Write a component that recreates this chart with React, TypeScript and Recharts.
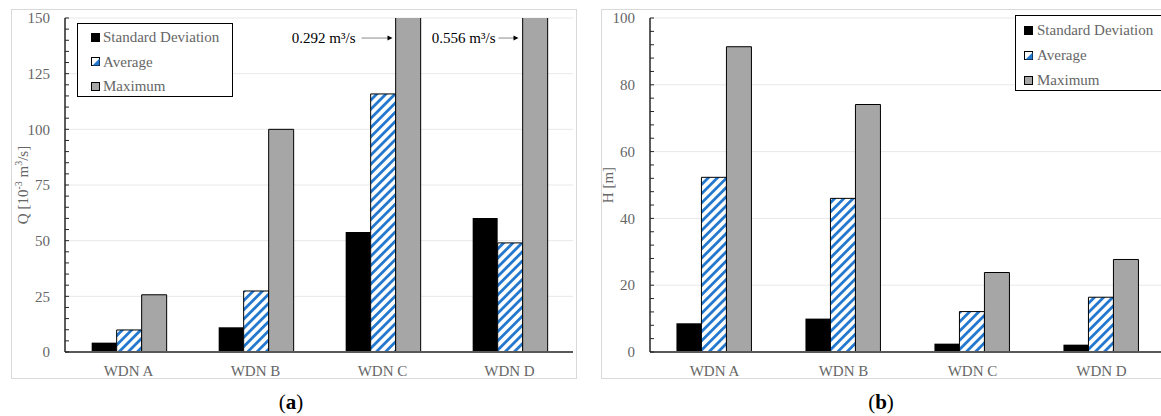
import React from 'react';
import { BarChart, Bar, XAxis, YAxis, CartesianGrid, Legend, ReferenceDot } from 'recharts';

// ---------- data ----------
const categories = ['WDN A', 'WDN B', 'WDN C', 'WDN D'];
const seriesNames = ['Standard Deviation', 'Average', 'Maximum'];

// (a) flow, Q [10^-3 m^3/s]
const flowStd = [4.2, 11.1, 53.9, 60.2];
const flowAvg = [9.9, 27.4, 115.9, 49.0];
const flowMax = [25.7, 100.0, 292, 556];

// (b) head, H [m]
const headStd = [8.6, 10.0, 2.5, 2.2];
const headAvg = [52.3, 46.0, 12.1, 16.4];
const headMax = [91.4, 74.1, 23.8, 27.7];

const flowTicks = [0, 5, 10, 15, 20, 25, 30, 35, 40, 45, 50, 55, 60, 65, 70, 75, 80, 85, 90, 95, 100, 105, 110, 115, 120, 125, 130, 135, 140, 145, 150];
const flowMajorTicks = [0, 25, 50, 75, 100, 125, 150];
const headTicks = [0, 4, 8, 12, 16, 20, 24, 28, 32, 36, 40, 44, 48, 52, 56, 60, 64, 68, 72, 76, 80, 84, 88, 92, 96, 100];
const headMajorTicks = [0, 20, 40, 60, 80, 100];

// off-scale annotations for (a)
const flowNoteCategories = ['WDN C', 'WDN D'];
const flowNoteLabels = ['0.292 m³/s', '0.556 m³/s'];
const flowNoteLevels = [141, 141];

// ---------- styles ----------
const FONT = "'Liberation Serif', 'Times New Roman', serif";
const TEXT = '#666666';
const BLUE = '#2479cf';
const GRAY = '#a6a6a6';
const noteStyles = [
  { textEnd: -27, arrowStart: -21, arrowEnd: 10 },
  { textEnd: -14, arrowStart: -11, arrowEnd: 9 },
];

const flowData = categories.map((name, i) => ({ name, std: flowStd[i], avg: flowAvg[i], max: flowMax[i] }));
const headData = categories.map((name, i) => ({ name, std: headStd[i], avg: headAvg[i], max: headMax[i] }));

const makeYTick = (major: number[], gap: number) => (props: any) => {
  const { x, y, payload } = props;
  const ax = x + gap;
  const isMajor = major.includes(payload.value);
  return (
    <g>
      <line x1={ax} x2={ax + 4} y1={y} y2={y} stroke="#262626" strokeWidth={1} />
      {isMajor && (
        <text x={x} y={y} dy="0.35em" textAnchor="end" fill={TEXT} fontSize={15} fontFamily={FONT}>
          {payload.value}
        </text>
      )}
    </g>
  );
};

const Swatch = ({ kind }: { kind: string }) => {
  if (kind === 'std') {
    return (
      <svg width={9} height={9} style={{ display: 'block' }}>
        <rect x={0} y={0} width={9} height={9} fill="#000" />
      </svg>
    );
  }
  if (kind === 'avg') {
    return (
      <svg width={9} height={9} style={{ display: 'block' }}>
        <rect x={0.5} y={0.5} width={8} height={8} fill="#fff" stroke="#000" />
        <polygon points="8.5,1.5 8.5,8.5 1.5,8.5" fill={BLUE} />
      </svg>
    );
  }
  return (
    <svg width={9} height={9} style={{ display: 'block' }}>
      <rect x={0.5} y={0.5} width={8} height={8} fill={GRAY} stroke="#000" />
    </svg>
  );
};

const makeLegend = (cfg: { w: number; h: number; swatchX: number; textX: number; firstY: number; step: number }) => (props: any) => {
  const payload = [...(props.payload || [])].sort(
    (a: any, b: any) => seriesNames.indexOf(a.value) - seriesNames.indexOf(b.value)
  );
  return (
    <div
      style={{
        position: 'relative',
        width: cfg.w,
        height: cfg.h,
        boxSizing: 'border-box',
        border: '1px solid #000',
        background: '#fff',
      }}
    >
      {payload.map((p: any, i: number) => (
        <div key={i} style={{ position: 'absolute', left: cfg.swatchX, top: cfg.firstY + i * cfg.step - 10, height: 20, display: 'flex', alignItems: 'center' }}>
          <Swatch kind={p.dataKey} />
          <span
            style={{
              marginLeft: cfg.textX - cfg.swatchX - 9,
              fontFamily: FONT,
              fontSize: 15,
              color: TEXT,
              whiteSpace: 'nowrap',
              lineHeight: '20px',
            }}
          >
            {p.value}
          </span>
        </div>
      ))}
    </div>
  );
};

const makeNoteShape = (label: string, st: { textEnd: number; arrowStart: number; arrowEnd: number }) => (props: any) => {
  const { cx, cy } = props;
  return (
    <g>
      <text x={cx + st.textEnd} y={cy} dy="0.35em" textAnchor="end" fill="#000" fontSize={15} fontFamily={FONT}>
        {label}
      </text>
      <line x1={cx + st.arrowStart} x2={cx + st.arrowEnd - 4} y1={cy} y2={cy} stroke="#8c8c8c" strokeWidth={1} />
      <polygon points={`${cx + st.arrowEnd},${cy} ${cx + st.arrowEnd - 5},${cy - 2.5} ${cx + st.arrowEnd - 5},${cy + 2.5}`} fill="#000" />
    </g>
  );
};

const qLabel = (props: any) => {
  const vb = props.viewBox || { x: 0, y: 18, width: 65, height: 334 };
  const cx = vb.x + 23;
  const cy = vb.y + vb.height / 2;
  return (
    <text x={cx} y={cy} transform={`rotate(-90, ${cx}, ${cy})`} textAnchor="middle" dy="0.35em" fill={TEXT} fontSize={15} fontFamily={FONT}>
      Q [10
      <tspan dy={-6} fontSize={10}>-3</tspan>
      <tspan dy={6}> m</tspan>
      <tspan dy={-6} fontSize={10}>3</tspan>
      <tspan dy={6}>/s]</tspan>
    </text>
  );
};

const hLabel = (props: any) => {
  const vb = props.viewBox || { x: 0, y: 18, width: 60, height: 334 };
  const cx = vb.x + 18;
  const cy = vb.y + vb.height / 2;
  return (
    <text x={cx} y={cy} transform={`rotate(-90, ${cx}, ${cy})`} textAnchor="middle" dy="0.35em" fill={TEXT} fontSize={15} fontFamily={FONT}>
      H [m]
    </text>
  );
};

const Stripes = ({ id }: { id: string }) => (
  <defs>
    <pattern id={id} patternUnits="userSpaceOnUse" width={6.5} height={6.5} patternTransform="rotate(45)">
      <rect x={0} y={0} width={6.5} height={6.5} fill="#fff" />
      <rect x={0} y={0} width={2.8} height={6.5} fill={BLUE} />
    </pattern>
  </defs>
);

const xTickStyle = { fill: TEXT, fontSize: 15, fontFamily: FONT };

export default function App() {
  return (
    <div style={{ position: 'absolute', left: 0, top: 0, width: 1161, height: 416, overflow: 'hidden', background: '#fff' }}>
      {/* panel frames */}
      <div style={{ position: 'absolute', left: 11, top: 9, width: 566, height: 370, border: '1px solid #d9d9d9', boxSizing: 'border-box' }} />
      <div style={{ position: 'absolute', left: 601, top: 9, width: 600, height: 370, border: '1px solid #d9d9d9', boxSizing: 'border-box' }} />

      {/* (a) */}
      <div style={{ position: 'absolute', left: 0, top: 0 }}>
        <BarChart width={590} height={390} data={flowData} margin={{ top: 18, right: 17, bottom: 8, left: 0 }} barCategoryGap="21%" barGap={0}>
          <Stripes id="stripeFlow" />
          <CartesianGrid vertical={false} horizontalValues={flowMajorTicks} stroke="#e8e8e8" strokeWidth={1} />
          <XAxis dataKey="name" tickLine={false} axisLine={{ stroke: '#595959', strokeWidth: 2 }} tick={xTickStyle} tickSize={6} tickMargin={7} height={30} />
          <YAxis
            domain={[0, 150]}
            allowDataOverflow
            ticks={flowTicks}
            interval={0}
            width={65}
            tickSize={0}
            tickMargin={15}
            tickLine={false}
            axisLine={{ stroke: '#262626', strokeWidth: 1.5 }}
            tick={makeYTick(flowMajorTicks, 15)}
            label={qLabel}
          />
          <Legend
            layout="horizontal"
            verticalAlign="middle"
            align="center"
            wrapperStyle={{ left: 77, top: 23, width: 156, height: 74 }}
            content={makeLegend({ w: 156, h: 74, swatchX: 13, textX: 25, firstY: 13, step: 24.5 })}
          />
          <Bar dataKey="std" name={seriesNames[0]} fill="#000" isAnimationActive={false} />
          <Bar dataKey="avg" name={seriesNames[1]} fill="url(#stripeFlow)" stroke="#000" strokeWidth={1} isAnimationActive={false} />
          <Bar dataKey="max" name={seriesNames[2]} fill={GRAY} stroke="#000" strokeWidth={1} isAnimationActive={false} />
          {flowNoteCategories.map((c, i) => (
            <ReferenceDot key={c} x={c} y={flowNoteLevels[i]} r={0} shape={makeNoteShape(flowNoteLabels[i], noteStyles[i])} />
          ))}
        </BarChart>
      </div>

      {/* (b) */}
      <div style={{ position: 'absolute', left: 590, top: 0 }}>
        <BarChart width={590} height={390} data={headData} margin={{ top: 18, right: 14, bottom: 8, left: 0 }} barCategoryGap="20.5%" barGap={0}>
          <Stripes id="stripeHead" />
          <CartesianGrid vertical={false} horizontalValues={headMajorTicks} stroke="#e8e8e8" strokeWidth={1} />
          <XAxis dataKey="name" tickLine={false} axisLine={{ stroke: '#595959', strokeWidth: 2 }} tick={xTickStyle} tickSize={6} tickMargin={7} height={30} />
          <YAxis
            domain={[0, 100]}
            allowDataOverflow
            ticks={headTicks}
            interval={0}
            width={60}
            tickSize={0}
            tickMargin={15}
            tickLine={false}
            axisLine={{ stroke: '#262626', strokeWidth: 1.5 }}
            tick={makeYTick(headMajorTicks, 15)}
            label={hLabel}
          />
          <Legend
            layout="horizontal"
            verticalAlign="middle"
            align="center"
            wrapperStyle={{ left: 425, top: 15, width: 160, height: 76 }}
            content={makeLegend({ w: 160, h: 76, swatchX: 8, textX: 21, firstY: 14, step: 25 })}
          />
          <Bar dataKey="std" name={seriesNames[0]} fill="#000" isAnimationActive={false} />
          <Bar dataKey="avg" name={seriesNames[1]} fill="url(#stripeHead)" stroke="#000" strokeWidth={1} isAnimationActive={false} />
          <Bar dataKey="max" name={seriesNames[2]} fill={GRAY} stroke="#000" strokeWidth={1} isAnimationActive={false} />
        </BarChart>
      </div>

      {/* captions */}
      <div style={{ position: 'absolute', left: 241, top: 389, width: 100, textAlign: 'center', fontFamily: FONT, fontSize: 21, lineHeight: '26px', color: '#000' }}>
        (<b>a</b>)
      </div>
      <div style={{ position: 'absolute', left: 831, top: 389, width: 100, textAlign: 'center', fontFamily: FONT, fontSize: 21, lineHeight: '26px', color: '#000' }}>
        (<b>b</b>)
      </div>
    </div>
  );
}
